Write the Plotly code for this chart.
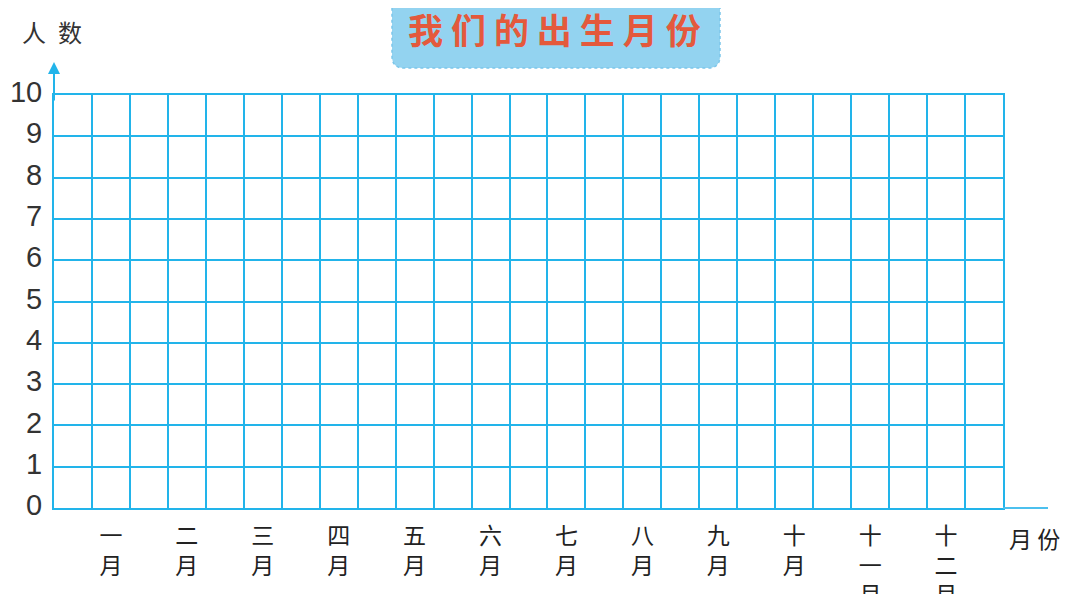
import plotly.graph_objects as go

# ---- data ----
months = ["一月", "二月", "三月", "四月", "五月", "六月",
          "七月", "八月", "九月", "十月", "十一月", "十二月"]
counts = [0, 0, 0, 0, 0, 0, 0, 0, 0, 0, 0, 0]   # blank template: no bars filled in yet
y_ticks = [0, 1, 2, 3, 4, 5, 6, 7, 8, 9, 10]
title_text = "我们的出生月份"
y_title = "人数"
x_title = "月份"

BLUE = "#22b4ea"
OFF = 8                      # page body margin
W, H = 1066, 586
L, T = 54 - OFF, 95 - OFF
R = W - (1003 - OFF)
B = H - (508 - OFF)
pw, ph = W - L - R, H - T - B

def px_x(px):
    return (px - OFF - L) / pw

def px_y(py):
    return (H - B - (py - OFF)) / ph

n_cells = 2 * len(months) + 1
centers = [1.5 + 2 * i for i in range(len(months))]
ticktext = ["<br>".join(list(m)) for m in months]

fig = go.Figure()
fig.add_trace(go.Bar(x=centers, y=counts, width=1, marker=dict(color="#22b4ea", line=dict(width=0)),
                     hoverinfo="skip", showlegend=False))

fig.update_layout(
    width=W, height=H,
    margin=dict(l=L, r=R, t=T, b=B, autoexpand=False),
    paper_bgcolor="white", plot_bgcolor="white",
    showlegend=False,
)

fig.update_xaxes(
    range=[0, n_cells], showgrid=False, zeroline=False, automargin=False,
    minor=dict(dtick=1, tick0=0, showgrid=True, gridcolor=BLUE, gridwidth=2, ticks=""),
    tickmode="array", tickvals=centers, ticktext=ticktext, ticks="",
    tickfont=dict(family="Noto Sans CJK SC", size=23, color="#222"),
    ticklabelstandoff=6,
    showline=True, linecolor=BLUE, linewidth=2, mirror=True,
    fixedrange=True,
)
fig.update_yaxes(
    range=[0, 10], tickmode="array", tickvals=y_ticks, ticktext=[str(v) for v in y_ticks],
    showgrid=True, gridcolor=BLUE, gridwidth=2, zeroline=False, ticks="", automargin=False,
    tickfont=dict(family="Liberation Sans", size=29, color="#333"),
    ticklabelstandoff=4, ticklabelshift=-3,
    showline=True, linecolor=BLUE, linewidth=2, mirror=True,
    fixedrange=True,
)

# x-axis extension beyond grid
fig.add_shape(type="line", xref="paper", yref="paper", x0=1, x1=px_x(1048), y0=0, y1=0,
              line=dict(color="#4cc0ee", width=2))

# y-axis arrow
fig.add_annotation(xref="paper", yref="paper", x=0, y=px_y(62), ax=0, ay=40,
                   axref="pixel", ayref="pixel", text="", showarrow=True,
                   arrowhead=2, arrowsize=1.2, arrowwidth=2, arrowcolor=BLUE)

# title box with rounded bottom corners
x0, x1 = px_x(392), px_x(720)
yt, yb = px_y(-20), px_y(68)
rx, ry = 12 / pw, 12 / ph
path = (f"M {x0},{yt} L {x1},{yt} L {x1},{yb + ry} Q {x1},{yb} {x1 - rx},{yb} "
        f"L {x0 + rx},{yb} Q {x0},{yb} {x0},{yb + ry} Z")
fig.add_shape(type="path", xref="paper", yref="paper", path=path,
              fillcolor="#93d3f0", line=dict(color="#7cc6ea", width=1.5, dash="dot"))
fig.add_annotation(xref="paper", yref="paper", x=px_x(554), y=px_y(28),
                   text=" ".join(list(title_text)), showarrow=False,
                   font=dict(family="Noto Sans CJK SC", size=35, color="#e4593c", weight="bold"),
                   xanchor="center", yanchor="middle")

# axis titles
fig.add_annotation(xref="paper", yref="paper", x=px_x(52), y=px_y(32),
                   text="\u2002".join(list(y_title)), showarrow=False,
                   font=dict(family="Noto Sans CJK SC", size=24, color="#333"),
                   xanchor="center", yanchor="middle")
fig.add_annotation(xref="paper", yref="paper", x=px_x(1034), y=px_y(538),
                   text=" ".join(list(x_title)), showarrow=False,
                   font=dict(family="Noto Sans CJK SC", size=23, color="#222"),
                   xanchor="center", yanchor="middle")

fig.write_html("out.html")
